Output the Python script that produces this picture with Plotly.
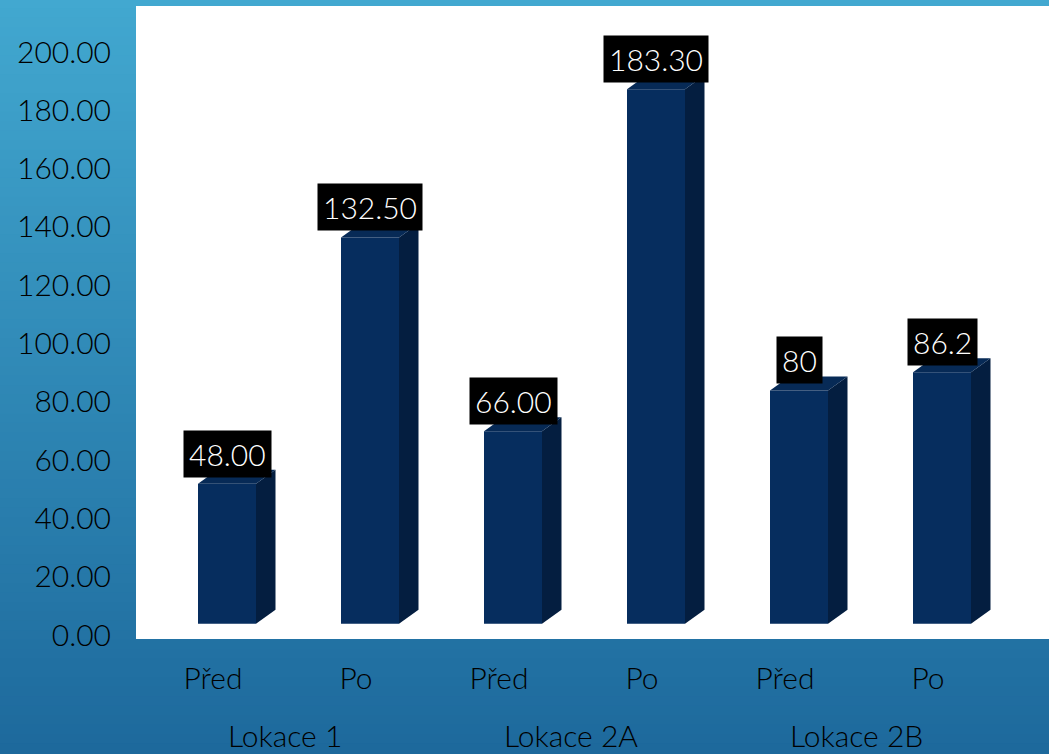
import plotly.graph_objects as go

# ---- data ----
categories = ["Před", "Po", "Před", "Po", "Před", "Po"]
groups = ["Lokace 1", "Lokace 2A", "Lokace 2B"]
values = [48.0, 132.5, 66.0, 183.3, 80.0, 86.2]
value_labels = ["48.00", "132.50", "66.00", "183.30", "80", "86.2"]
y_ticks = [0, 20, 40, 60, 80, 100, 120, 140, 160, 180, 200]

# ---- layout constants (pixels of the figure) ----
W, H = 1049, 754
L, R, T, B = 136, 0, 6, 115
PW, PH = W - L - R, H - T - B
PX_PER_X = 143.0
X0_PX = 77.0
PX_PER_Y = 2.915
Y_BOTTOM = -1.37
y_top = Y_BOTTOM + PH / PX_PER_Y
x_left = -X0_PX / PX_PER_X
x_right = (PW - X0_PX) / PX_PER_X

BASE = 3.9          # floor of the 3D box (in axis units)
FRONT_OFF = -15 / PX_PER_X
FRONT_W = 58 / PX_PER_X
DX = 19.5 / PX_PER_X
DY = 14 / PX_PER_Y

FRONT = "#062D5E"
SIDE = "#041E40"
TOP = "#072A56"
FONT = "Lato"

xs = list(range(len(values)))

fig = go.Figure()

# background gradient + white plot area
top_c = (0x42, 0xA8, 0xD0)
bot_c = (0x1D, 0x69, 0x9C)
n = 80
y_hi = (T + PH) / PH
y_lo = -B / PH
for i in range(n):
    f = (i + 0.5) / n
    c = tuple(int(round(top_c[k] + (bot_c[k] - top_c[k]) * f)) for k in range(3))
    ya = y_hi - (y_hi - y_lo) * i / n
    yb = y_hi - (y_hi - y_lo) * (i + 1) / n
    fig.add_shape(type="rect", xref="paper", yref="paper", x0=-L / PW - 0.01, x1=1.01,
                  y0=yb - 0.002, y1=ya + 0.002, line_width=0,
                  fillcolor="rgb(%d,%d,%d)" % c, layer="below")
fig.add_shape(type="rect", xref="paper", yref="paper", x0=0, x1=1.01, y0=0, y1=1,
              line_width=0, fillcolor="white", layer="below")

# front faces
fig.add_trace(go.Bar(x=xs, y=values, base=[BASE] * len(values), offset=FRONT_OFF,
                     width=FRONT_W, marker=dict(color=FRONT, line=dict(width=0)),
                     hoverinfo="skip", showlegend=False))

# side and top faces
for x, v in zip(xs, values):
    xl = x + FRONT_OFF
    xr = xl + FRONT_W
    fig.add_trace(go.Scatter(
        x=[xr, xr + DX, xr + DX, xr, xr],
        y=[BASE, BASE + DY, BASE + v + DY, BASE + v, BASE],
        fill="toself", fillcolor=SIDE, mode="lines", line=dict(width=0, color=SIDE),
        hoverinfo="skip", showlegend=False))
    fig.add_trace(go.Scatter(
        x=[xl, xl + DX, xr + DX, xr, xl],
        y=[BASE + v, BASE + v + DY, BASE + v + DY, BASE + v, BASE + v],
        fill="toself", fillcolor=TOP, mode="lines", line=dict(width=0, color=TOP),
        hoverinfo="skip", showlegend=False))

# value labels
for x, v, t in zip(xs, values, value_labels):
    fig.add_annotation(x=x + FRONT_OFF + FRONT_W / 2, y=BASE + v, text=t,
                       showarrow=False, yanchor="bottom", yshift=6,
                       bgcolor="black", borderpad=5,
                       font=dict(family=FONT, size=30, color="white", weight=300))

# group labels
for gi, g in enumerate(groups):
    fig.add_annotation(x=2 * gi + 0.5, xref="x", y=-(735 - (T + PH)) / PH, yref="paper",
                       text=g, showarrow=False, yanchor="middle",
                       font=dict(family=FONT, size=30, color="black", weight=300))

fig.update_layout(
    width=W, height=H,
    margin=dict(l=L, r=R, t=T, b=B, pad=0),
    paper_bgcolor="#2E88B8",
    plot_bgcolor="rgba(0,0,0,0)",
    showlegend=False,
    xaxis=dict(range=[x_left, x_right], tickvals=xs, ticktext=categories,
               showgrid=False, zeroline=False, showline=False, ticks="",
               ticklabelstandoff=19,
               tickfont=dict(family=FONT, size=30, color="black", weight=300)),
    yaxis=dict(range=[Y_BOTTOM, y_top], tickvals=y_ticks, tickformat=".2f",
               showgrid=False, zeroline=False, showline=False, ticks="",
               ticklabelstandoff=24,
               tickfont=dict(family=FONT, size=30, color="black", weight=300)),
)

fig.write_html("out.html")
